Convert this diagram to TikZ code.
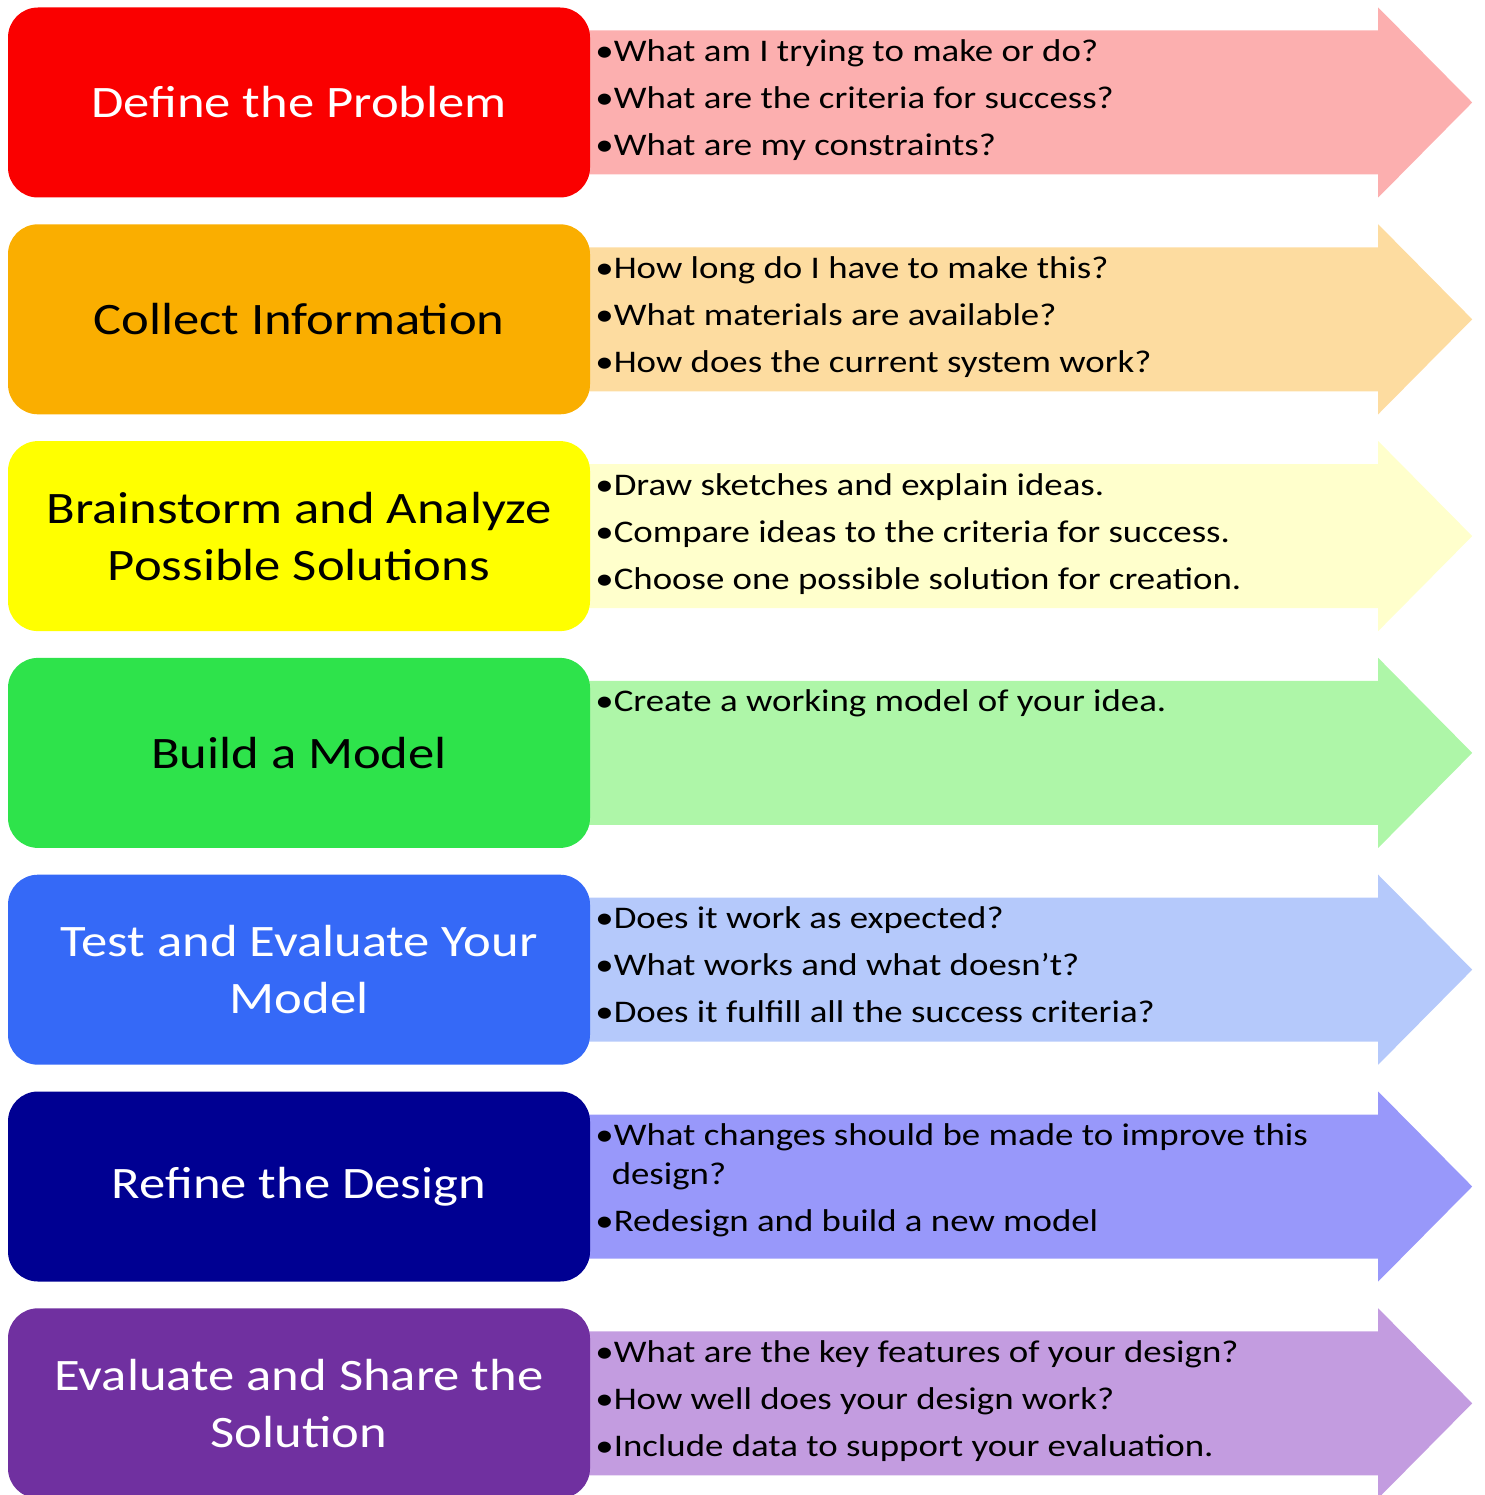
\documentclass[tikz,border=0pt]{standalone}
\usepackage{fontspec}
\setmainfont{Carlito}[FakeStretch=1.17]
\usepackage{tikz}
\usetikzlibrary{positioning, calc, backgrounds}

\definecolor{stageRed}{HTML}{FA0000}
\definecolor{stageOrange}{HTML}{FAAE00}
\definecolor{stageYellow}{HTML}{FFFF00}
\definecolor{stageGreen}{HTML}{2EE34B}
\definecolor{stageBlue}{HTML}{3569F7}
\definecolor{stageNavy}{HTML}{000092}
\definecolor{stagePurple}{HTML}{7030A0}
\definecolor{arrowRed}{HTML}{FCAFAF}
\definecolor{arrowOrange}{HTML}{FDDCA0}
\definecolor{arrowYellow}{HTML}{FFFFCC}
\definecolor{arrowGreen}{HTML}{AEF6A8}
\definecolor{arrowBlue}{HTML}{B5C9FB}
\definecolor{arrowNavy}{HTML}{9898FA}
\definecolor{arrowPurple}{HTML}{C39CE0}

% fat arrow running out of the right side of a stage box
\newcommand{\questionarrow}[2]{%
    \fill[#2] ($(#1.east)+(-20,72)$) -- ++(808,0) -- ++(0,23)
        -- ($(#1.east)+(882,0)$) -- ($(#1.east)+(788,-95)$) -- ++(0,23)
        -- ($(#1.east)+(-20,-72)$) -- cycle;}

\begin{document}
\begin{tikzpicture}[
    x=1pt, y=1pt,
    node distance=26.4pt,
    stage/.style={rectangle, rounded corners=30pt, minimum width=582pt,
        minimum height=190pt, inner sep=0pt, align=center,
        font=\fontsize{45}{57}\selectfont},
    points/.style={anchor=north west, inner sep=0pt, align=left,
        font=\fontsize{31.5}{47}\selectfont}
]
    \useasboundingbox (0,0) rectangle (1484,-1495);

    % seven stages, stacked from the top
    \node[stage, fill=stageRed, text=white] (define) at (299,-102.5) {Define the Problem};
    \node[stage, fill=stageOrange, below=of define] (collect) {Collect Information};
    \node[stage, fill=stageYellow, below=of collect] (brainstorm) {Brainstorm and Analyze\\Possible Solutions};
    \node[stage, fill=stageGreen, below=of brainstorm] (build) {Build a Model};
    \node[stage, fill=stageBlue, text=white, below=of build] (test) {Test and Evaluate Your\\Model};
    \node[stage, fill=stageNavy, text=white, below=of test] (refine) {Refine the Design};
    \node[stage, fill=stagePurple, text=white, below=of refine] (share) {Evaluate and Share the\\Solution};

    % arrows sit behind the boxes
    \begin{scope}[on background layer]
        \questionarrow{define}{arrowRed}
        \questionarrow{collect}{arrowOrange}
        \questionarrow{brainstorm}{arrowYellow}
        \questionarrow{build}{arrowGreen}
        \questionarrow{test}{arrowBlue}
        \questionarrow{refine}{arrowNavy}
        \questionarrow{share}{arrowPurple}
    \end{scope}

    % questions for each stage
    \node[points] (qdefine) at ($(define.east)+(5,63)$)
        {•What am I trying to make or do?\\•What are the criteria for success?\\•What are my constraints?};
    \node[points] (qcollect) at ($(collect.east)+(5,63)$)
        {•How long do I have to make this?\\•What materials are available?\\•How does the current system work?};
    \node[points] (qbrainstorm) at ($(brainstorm.east)+(5,63)$)
        {•Draw sketches and explain ideas.\\•Compare ideas to the criteria for success.\\•Choose one possible solution for creation.};
    \node[points] (qbuild) at ($(build.east)+(5,63)$)
        {•Create a working model of your idea.};
    \node[points] (qtest) at ($(test.east)+(5,63)$)
        {•Does it work as expected?\\•What works and what doesn't?\\•Does it fulfill all the success criteria?};
    \node[points] (qrefine) at ($(refine.east)+(5,63)$)
        {•What changes should be made to improve this\\[-8pt]\hspace*{-2pt}\phantom{•}design?\\•Redesign and build a new model};
    \node[points] (qshare) at ($(share.east)+(5,63)$)
        {•What are the key features of your design?\\•How well does your design work?\\•Include data to support your evaluation.};
\end{tikzpicture}
\end{document}
